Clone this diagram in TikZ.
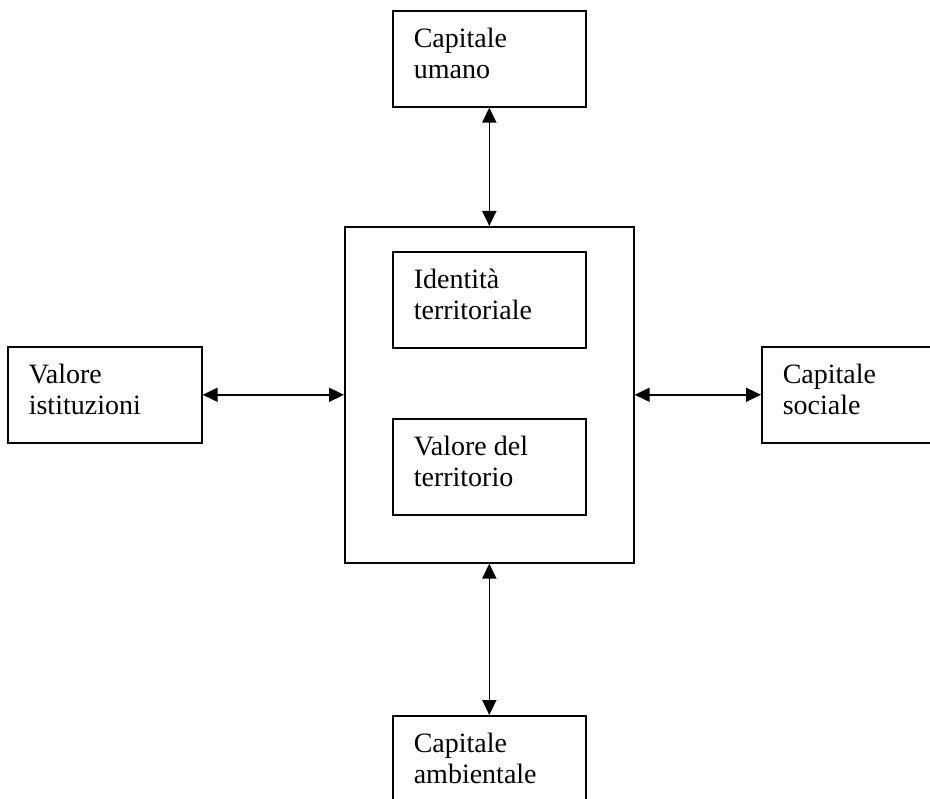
\documentclass[tikz,border=0pt]{standalone}
\usepackage{fontspec}
\setmainfont{Liberation Serif}
\usetikzlibrary{arrows.meta}

\tikzset{
  box/.style={draw, line width=1.6pt, anchor=north west,
    minimum width=193pt, minimum height=96pt,
    inner xsep=21pt, inner ysep=0pt, text width=151pt, align=flush left,
    text height=19pt, text depth=41pt, font=\fontsize{28}{31}\selectfont},
  link/.style={line width=1.6pt,
    {Triangle[length=15pt,width=14pt]}-{Triangle[length=15pt,width=14pt]}}
}

\begin{document}
\begin{tikzpicture}[x=1pt,y=1pt]
\useasboundingbox (0,0) rectangle (930,-799);
\clip (0,0) rectangle (930,-799);

% central block
\node[draw, line width=1.6pt, anchor=north west,
      minimum width=289pt, minimum height=336pt] (centro) at (344,-226) {};
\node[box] (identita) at (392,-251) {Identità\\territoriale};
\node[box] (valore) at (392,-418) {Valore del\\territorio};

% outer boxes
\node[box] (umano) at (392,-10) {Capitale\\umano};
\node[box, minimum width=194pt, text width=152pt] (istituzioni) at (7,-346) {Valore\\istituzioni};
\node[box] (sociale) at (761,-346) {Capitale\\sociale};
\node[box] (ambientale) at (392,-715) {Capitale\\ambientale};

% links
\draw[link] (umano) -- (centro);
\draw[link] (istituzioni) -- (centro);
\draw[link] (centro) -- (sociale);
\draw[link] (centro) -- (ambientale);
\end{tikzpicture}
\end{document}
